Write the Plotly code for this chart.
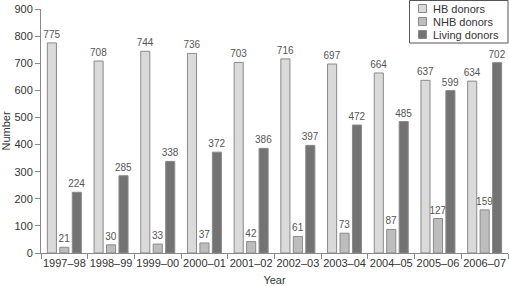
import plotly.graph_objects as go

years = ["1997–98", "1998–99", "1999–00", "2000–01", "2001–02", "2002–03",
         "2003–04", "2004–05", "2005–06", "2006–07"]
hb = [775, 708, 744, 736, 703, 716, 697, 664, 637, 634]
nhb = [21, 30, 33, 37, 42, 61, 73, 87, 127, 159]
living = [224, 285, 338, 372, 386, 397, 472, 485, 599, 702]

series = [("HB donors", hb, "#dadada"), ("NHB donors", nhb, "#bdbdbd"),
          ("Living donors", living, "#737373")]

W, H = 509, 286
ML, MR, MT, MB = 41, 1, 9, 33
PW, PH = W - ML - MR, H - MT - MB


def px(x):
    return (x - ML) / PW


def py(y):
    return (H - MB - y) / PH


fig = go.Figure()
for name, vals, col in series:
    fig.add_trace(go.Bar(
        x=years, y=vals, name=name, showlegend=False,
        marker=dict(color=col, line=dict(color="#8a8a8a", width=1)),
        text=[str(v) for v in vals], textposition="outside",
        textfont=dict(size=10, color="#555555"), cliponaxis=False,
    ))

# compact legend box (as in the reference)
shapes = [dict(type="rect", xref="paper", yref="paper",
               x0=px(409.5), x1=px(508), y0=py(43), y1=py(0.5),
               line=dict(color="#555555", width=1), fillcolor="white")]
annotations = []
for i, (name, vals, col) in enumerate(series):
    cy = 8.5 + 13 * i
    shapes.append(dict(type="rect", xref="paper", yref="paper",
                       x0=px(418.5), x1=px(426.5), y0=py(cy + 4), y1=py(cy - 4),
                       line=dict(color="#8a8a8a", width=1), fillcolor=col))
    annotations.append(dict(xref="paper", yref="paper", x=px(431), y=py(cy),
                            xanchor="left", yanchor="middle", showarrow=False,
                            text=name, font=dict(size=11, color="#333333")))

font = "Liberation Sans, Arial, sans-serif"
fig.update_layout(
    width=W, height=H,
    margin=dict(l=ML, r=MR, t=MT, b=MB),
    barmode="group", bargap=0.2, bargroupgap=0.27,
    plot_bgcolor="white", paper_bgcolor="white",
    font=dict(family=font, size=11, color="#333333"),
    uniformtext=dict(minsize=9, mode="show"),
    shapes=shapes, annotations=annotations,
    xaxis=dict(title=dict(text="Year", font=dict(size=11), standoff=8),
               showline=True, linecolor="#888888", linewidth=1,
               ticks="outside", tickson="boundaries", ticklen=5,
               tickcolor="#888888", showgrid=False, tickangle=0,
               tickfont=dict(size=11)),
    yaxis=dict(title=dict(text="Number", font=dict(size=11), standoff=4),
               range=[0, 900], dtick=100,
               showline=True, linecolor="#888888", linewidth=1,
               ticks="outside", ticklen=5, tickcolor="#888888",
               showgrid=False, zeroline=False, tickfont=dict(size=11)),
)

fig.write_html("out.html")
